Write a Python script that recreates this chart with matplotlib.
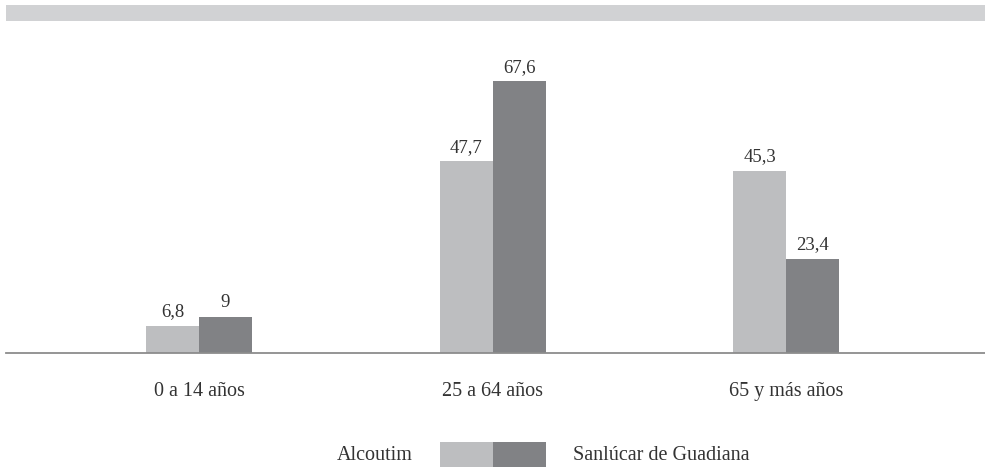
import matplotlib.pyplot as plt
from matplotlib.patches import Rectangle

categories = ['0 a 14 años', '25 a 64 años', '65 y más años']
series_names = ['Alcoutim', 'Sanlúcar de Guadiana']
alcoutim = [6.8, 47.7, 45.3]
sanlucar = [9, 67.6, 23.4]
value_labels = [['6,8', '47,7', '45,3'], ['9', '67,6', '23,4']]

light = '#bdbec0'
dark = '#818285'
text_color = '#333333'

plt.rcParams['font.family'] = ['Liberation Serif', 'DejaVu Serif']

W, H = 985, 467
fig = plt.figure(figsize=(W / 100, H / 100), dpi=100)

# axes: x from 6 px to 985 px, baseline at y=353 px, top at y=30 px
ax = fig.add_axes([6 / W, (H - 353) / H, (985 - 6) / W, (353 - 30) / H])

group_px = 293.5
width = 53 / group_px
x = list(range(len(categories)))
xl = [i - width / 2 for i in x]
xr = [i + width / 2 for i in x]

b1 = ax.bar(xl, alcoutim, width, color=light, zorder=2)
b2 = ax.bar(xr, sanlucar, width, color=dark, zorder=2)

for bars, labels in zip((b1, b2), value_labels):
    for bar, lab in zip(bars, labels):
        ax.annotate(lab, (bar.get_x() + bar.get_width() / 2, bar.get_height()),
                    xytext=(0, 4), textcoords='offset points',
                    ha='center', va='bottom', fontsize=13.5, color=text_color)

ax.set_xlim(-(199 - 6) / group_px, 2 + (985 - 786) / group_px)
ax.set_ylim(0, (353 - 30) / 4.02)
ax.set_xticks(x)
ax.set_xticklabels(categories, fontsize=14.5, color=text_color)
ax.tick_params(axis='x', length=0, pad=21)
ax.set_yticks([])
for s in ('top', 'left', 'right'):
    ax.spines[s].set_visible(False)
ax.spines['bottom'].set_color('#8c8c8c')
ax.spines['bottom'].set_linewidth(1.3)

# grey band at the top
fig.patches.append(Rectangle((6 / W, (H - 21) / H), (985 - 6) / W, 16 / H,
                             transform=fig.transFigure, color='#d1d2d4', lw=0))

# legend: label, two joined swatches, label
fig.patches.append(Rectangle((440 / W, (H - 470) / H), 53 / W, 28 / H,
                             transform=fig.transFigure, color=light, lw=0))
fig.patches.append(Rectangle((493 / W, (H - 470) / H), 53 / W, 28 / H,
                             transform=fig.transFigure, color=dark, lw=0))
fig.text(413 / W, (H - 455) / H, series_names[0], ha='right', va='center',
         fontsize=14.5, color=text_color)
fig.text(573 / W, (H - 455) / H, series_names[1], ha='left', va='center',
         fontsize=14.5, color=text_color)

fig.savefig('out.png', dpi=100, facecolor='white')
